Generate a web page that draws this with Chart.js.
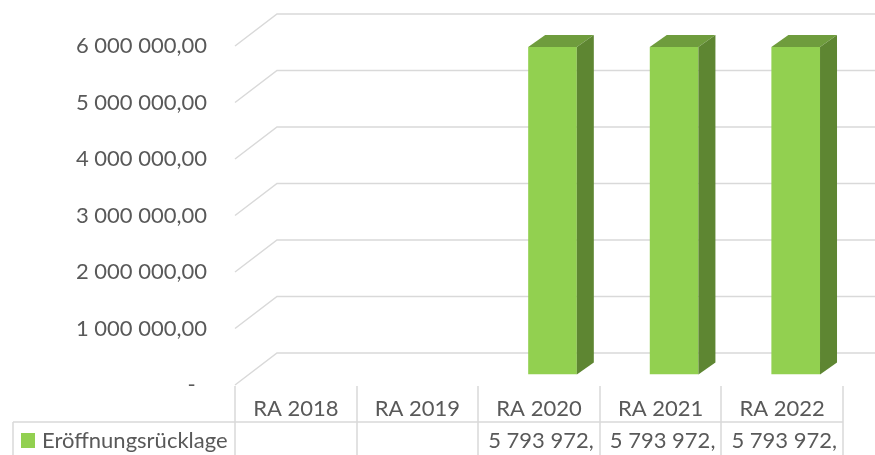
<!DOCTYPE html>
<html>
<head>
<meta charset="utf-8">
<script src="https://cdn.jsdelivr.net/npm/chart.js@4/dist/chart.umd.min.js"></script>
<style>
  html, body { margin: 0; padding: 0; background: #fff; }
  #wrap { width: 875px; height: 455px; }
</style>
</head>
<body>
<div id="wrap"><canvas id="chart" width="875" height="455"></canvas></div>
<script>
// data
const categories = ['RA 2018', 'RA 2019', 'RA 2020', 'RA 2021', 'RA 2022'];
const seriesName = 'Eröffnungsrücklage';
const values = [null, null, 5793972.00, 5793972.00, 5793972.00];
const yTicks = [0, 1000000, 2000000, 3000000, 4000000, 5000000, 6000000];

const FONT = 'Lato';
const FS = 22;
const TEXT = '#595959';
const GRID = '#D9D9D9';

// 1234567.5 -> "1 234 567,50"
function fmt(v) {
  const parts = v.toFixed(2).split('.');
  return parts[0].replace(/\B(?=(\d{3})+(?!\d))/g, ' ') + ',' + parts[1];
}

// 3d look: floor depth for gridlines, and bar offset / depth
const wallDx = 42, wallDy = -32;
const barDx = 13.5, barDy = -10.6;
const sideDx = 17, sideDy = -12;

const depthPlugin = {
  id: 'depth',
  beforeDatasetsDraw(chart) {
    const { ctx, scales: { y } } = chart;
    const left = chart.chartArea.left;
    ctx.save();
    ctx.strokeStyle = GRID;
    ctx.lineWidth = 1.5;
    yTicks.forEach(t => {
      const py = y.getPixelForValue(t);
      ctx.beginPath();
      ctx.moveTo(left, py);
      ctx.lineTo(left + wallDx, py + wallDy);
      ctx.lineTo(chart.width, py + wallDy);
      ctx.stroke();
    });
    ctx.restore();
  },
  beforeDatasetDraw(chart) {
    chart.ctx.save();
    chart.ctx.translate(barDx, barDy);
  },
  afterDatasetDraw(chart, args) {
    const ctx = chart.ctx;
    args.meta.data.forEach((bar, i) => {
      if (values[i] == null) return;
      const p = bar.getProps(['x', 'y', 'base', 'width'], true);
      const l = p.x - p.width / 2, r = p.x + p.width / 2;
      // top face
      ctx.fillStyle = '#6F9C3D';
      ctx.beginPath();
      ctx.moveTo(l, p.y);
      ctx.lineTo(r, p.y);
      ctx.lineTo(r + sideDx, p.y + sideDy);
      ctx.lineTo(l + sideDx, p.y + sideDy);
      ctx.closePath();
      ctx.fill();
      // side face
      ctx.fillStyle = '#5E8632';
      ctx.beginPath();
      ctx.moveTo(r, p.y);
      ctx.lineTo(r + sideDx, p.y + sideDy);
      ctx.lineTo(r + sideDx, p.base + sideDy);
      ctx.lineTo(r, p.base);
      ctx.closePath();
      ctx.fill();
    });
    ctx.restore();
  },
  afterDraw(chart) {
    const { ctx, scales: { x } } = chart;
    const area = chart.chartArea;
    const n = categories.length;
    const colW = (area.right - area.left) / n;
    const headTop = area.bottom + 1, rowTop = 422, rowBottom = 470;
    ctx.save();
    ctx.strokeStyle = GRID;
    ctx.lineWidth = 1.5;
    ctx.beginPath();
    for (let i = 0; i <= n; i++) {
      const px = Math.round(area.left + i * colW);
      ctx.moveTo(px, headTop);
      ctx.lineTo(px, rowBottom);
    }
    ctx.moveTo(13, rowTop);
    ctx.lineTo(area.right, rowTop);
    ctx.moveTo(13, rowTop);
    ctx.lineTo(13, rowBottom);
    ctx.stroke();

    ctx.font = FS + 'px ' + FONT;
    ctx.fillStyle = TEXT;
    ctx.textBaseline = 'middle';
    ctx.textAlign = 'center';
    categories.forEach((c, i) => {
      ctx.fillText(c, x.getPixelForValue(i), 409);
    });

    // legend cell
    ctx.fillStyle = '#92D050';
    ctx.fillRect(21, 433, 14, 15);
    ctx.fillStyle = TEXT;
    ctx.textAlign = 'left';
    ctx.fillText(seriesName, 42, 441);

    // values, cut to fit the cell like the original
    values.forEach((v, i) => {
      if (v == null) return;
      let s = fmt(v);
      const maxW = colW - 12;
      while (s.length && ctx.measureText(s).width > maxW) s = s.slice(0, -1);
      ctx.fillText(s, x.getPixelForValue(i) - colW / 2 + 10, 441);
    });
    ctx.restore();
  }
};

new Chart(document.getElementById('chart'), {
  type: 'bar',
  data: {
    labels: categories,
    datasets: [{
      label: seriesName,
      data: values,
      backgroundColor: '#92D050',
      borderWidth: 0,
      categoryPercentage: 1,
      barPercentage: 0.4
    }]
  },
  options: {
    responsive: false,
    animation: false,
    layout: { padding: { left: 0, top: 46, right: 32, bottom: 70 } },
    plugins: { legend: { display: false }, tooltip: { enabled: false } },
    scales: {
      x: { display: false },
      y: {
        min: 0,
        max: 6000000,
        afterFit(scale) { scale.width = 235; },
        afterBuildTicks(scale) { scale.ticks = yTicks.map(v => ({ value: v })); },
        grid: { display: false, drawTicks: false },
        border: { display: false },
        ticks: {
          padding: 28,
          color: TEXT,
          font: { family: FONT, size: FS },
          callback: v => v === 0 ? '-  ' : fmt(v)
        }
      }
    }
  },
  plugins: [depthPlugin]
});
</script>
</body>
</html>
